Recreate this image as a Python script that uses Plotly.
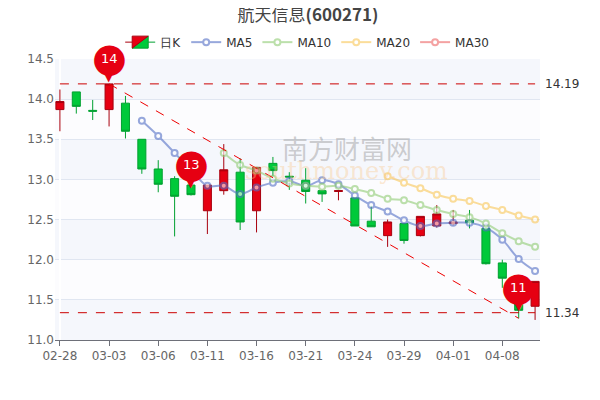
import plotly.graph_objects as go

# --- dados ---
dates = ['02-28', '02-29', '03-01', '03-03', '03-04', '03-05', '03-06', '03-07', '03-08', '03-11',
         '03-12', '03-13', '03-14', '03-15', '03-16', '03-17', '03-18', '03-21', '03-22', '03-23',
         '03-24', '03-25', '03-28', '03-29', '03-30', '03-31', '04-01', '04-05', '04-07', '04-08']
tick_labels = ['02-28', '03-03', '03-06', '03-11', '03-16', '03-21', '03-24', '03-29', '04-01', '04-08']

open_ = [13.87, 14.09, 13.86, 13.87, 13.95, 13.50, 13.13, 13.01, 12.93, 12.61,
         12.86, 13.09, 12.61, 13.20, 13.04, 12.99, 12.86, 12.85, 12.77, 12.48,
         12.30, 12.45, 12.30, 12.42, 12.45, 12.49, 12.39, 11.96, 11.45, 11.42]
close = [13.97, 13.91, 13.85, 14.19, 13.60, 13.13, 12.94, 12.79, 12.81, 12.93,
         13.12, 12.47, 13.15, 13.11, 13.03, 12.85, 12.82, 12.86, 12.42, 12.41,
         12.47, 12.24, 12.54, 12.57, 12.47, 12.46, 11.95, 11.77, 11.37, 11.73]
high = [14.12, 14.09, 13.99, 14.19, 14.04, 13.50, 13.24, 13.04, 12.93, 12.93,
        13.44, 13.26, 13.15, 13.28, 13.09, 13.14, 12.87, 12.87, 12.78, 12.67,
        12.50, 12.45, 12.54, 12.68, 12.62, 12.62, 12.40, 12.00, 11.55, 11.73]
low = [13.60, 13.82, 13.74, 13.66, 13.51, 13.07, 12.84, 12.29, 12.80, 12.32,
       12.81, 12.37, 12.34, 13.04, 12.87, 12.70, 12.72, 12.74, 12.42, 12.41,
       12.16, 12.20, 12.29, 12.40, 12.43, 12.39, 11.94, 11.65, 11.27, 11.25]

ma5 = [None] * 5 + [13.73, 13.54, 13.33, 13.12, 12.92, 12.92, 12.82, 12.90, 12.96, 12.98,
                    12.92, 12.99, 12.94, 12.80, 12.68, 12.60, 12.49, 12.42, 12.45, 12.46,
                    12.46, 12.40, 12.25, 12.01, 11.86]
ma10 = [None] * 10 + [13.33, 13.18, 13.11, 13.01, 12.95, 12.92, 12.91, 12.92, 12.88, 12.83,
                      12.76, 12.74, 12.68, 12.62, 12.57, 12.53, 12.45, 12.33, 12.23, 12.16]
ma20 = [None] * 20 + [13.04, 12.96, 12.89, 12.81, 12.76, 12.73, 12.67, 12.62, 12.55, 12.50]

max_line = 14.19
min_line = 11.34
pins = [(3, 14.19, '14'), (8, 12.87, '13'), (28, 11.34, '11')]

x = list(range(len(dates)))
RED = '#e60012'
GREEN = '#00c93a'

fig = go.Figure()

# faixas alternadas do fundo
for i, y0 in enumerate([11, 11.5, 12, 12.5, 13, 13.5, 14]):
    fig.add_shape(type='rect', xref='paper', x0=0, x1=1, y0=y0, y1=y0 + 0.5,
                  fillcolor='#f5f7fc' if i % 2 == 0 else '#fcfcfe', line_width=0, layer='below')

fig.add_annotation(x=17.5, y=13.4, text='南方财富网', showarrow=False,
                   font=dict(size=26, color='rgba(150,150,150,0.45)', family='Noto Sans CJK SC'))
fig.add_annotation(x=17.5, y=13.1, text='southmoney.com', showarrow=False,
                   font=dict(size=24, color='rgba(250,200,140,0.4)', family='DejaVu Serif'))

fig.add_trace(go.Candlestick(x=x, open=open_, high=high, low=low, close=close, name='日K',
                             increasing=dict(line=dict(color='#a8000e', width=1), fillcolor=RED),
                             decreasing=dict(line=dict(color='#00a030', width=1), fillcolor=GREEN),
                             whiskerwidth=0))

for name, vals, col in [('MA5', ma5, '#5470c6'), ('MA10', ma10, '#91cc75'),
                        ('MA20', ma20, '#fac858'), ('MA30', [None] * 30, '#ee6666')]:
    fig.add_trace(go.Scatter(x=x, y=vals, name=name, mode='lines+markers',
                             line=dict(color=col, width=2, shape='spline'), opacity=0.6,
                             marker=dict(size=6, color='white', line=dict(color=col, width=2))))

# linhas de máximo/mínimo
for v in [max_line, min_line]:
    fig.add_shape(type='line', x0=0, x1=29, y0=v, y1=v, line=dict(color='#cc0000', width=1, dash='dash'))
    fig.add_annotation(x=1, xref='paper', xanchor='left', y=v, text=str(v), showarrow=False,
                       font=dict(size=12, color='#333'), xshift=3)
# linha de tendência
fig.add_shape(type='line', x0=3, x1=28, y0=max_line, y1=low[28],
              line=dict(color='#ee0000', width=1, dash='dash'))

# marcadores em forma de pino (anotações, não são cortadas pelo eixo)
for xi, yi, txt in pins:
    fig.add_annotation(x=xi, y=yi, text='▼', showarrow=False, yshift=11,
                       font=dict(size=20, color=RED, family='DejaVu Sans'))
    fig.add_annotation(x=xi, y=yi, text='●', showarrow=False, yshift=27,
                       font=dict(size=40, color=RED, family='DejaVu Sans'))
    fig.add_annotation(x=xi, y=yi, text=txt, showarrow=False, yshift=25,
                       font=dict(size=13, color='white', family='DejaVu Sans'))

fig.update_layout(
    width=600, height=400, plot_bgcolor='white', paper_bgcolor='white',
    margin=dict(l=47, r=68, t=51, b=68, autoexpand=False),
    font=dict(family='DejaVu Sans', color='#666'),
    title=dict(text='航天信息<b>(600271)</b>', x=0.5, y=0.983, xanchor='center', yanchor='middle',
               font=dict(size=17, color='#444', family='Noto Sans CJK SC')),
    legend=dict(orientation='h', x=0.52, xanchor='center', y=1.06, yanchor='middle',
                font=dict(size=12, color='#333')),
    showlegend=True,
)
fig.update_xaxes(range=[-0.3, 29.3], tickvals=x[::3], ticktext=tick_labels, rangeslider_visible=False,
                 showgrid=False, showline=True, linecolor='#6e7079', ticks='outside', ticklen=5,
                 tickcolor='#6e7079', tickfont=dict(size=12, color='#666'))
fig.update_yaxes(range=[11, 14.5], dtick=0.5, tickformat='.1f', showgrid=True, gridcolor='#e0e6f1',
                 zeroline=False, tickfont=dict(size=12, color='#666'))

fig.write_html('out.html')
